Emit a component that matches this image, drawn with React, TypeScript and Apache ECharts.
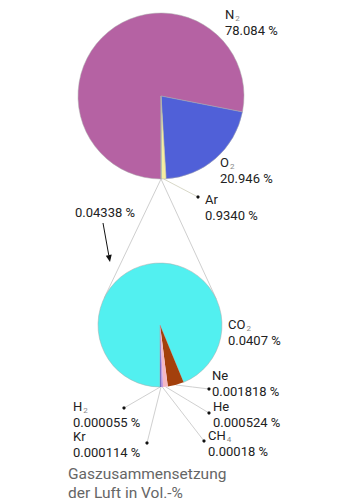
import React, { useEffect, useRef } from "react";
import * as echarts from "echarts";

// ---- data ----
const topNames = ["N2", "O2", "Ar", "Rest"];
const topValues = [78.084, 20.946, 0.934, 0.04338];
const topValueLabels = ["78.084 %", "20.946 %", "0.9340 %", "0.04338 %"];
const topColors = ["#b562a3", "#5060d8", "#f5eea0", "#52f0f0"];

const bottomNames = ["CO2", "Ne", "He", "CH4", "Kr", "H2"];
const bottomValues = [0.0407, 0.001818, 0.000524, 0.00018, 0.000114, 0.000055];
const bottomValueLabels = ["0.0407 %", "0.001818 %", "0.000524 %", "0.00018 %", "0.000114 %", "0.000055 %"];
const bottomColors = ["#52f0f0", "#a3400c", "#f4b8c4", "#c49ae0", "#7a5ac8", "#3040a8"];

const titleLines = ["Gaszusammensetzung", "der Luft in Vol.-%"];

// ---- layout ----
const TOP_C = [161, 96];
const TOP_R = 83;
const BOT_C = [160, 325];
const BOT_R = 62;

// label top-left positions and dot positions (null = no leader line)
const topLabelPos: number[][] = [[225, 6], [220, 154], [205, 191], [75, 204]];
const topDots: (number[] | null)[] = [null, null, [198, 197], null];
const bottomLabelPos: number[][] = [[228, 316], [212, 367], [213, 398], [208, 427], [73, 428], [73, 398]];
const bottomDots: (number[] | null)[] = [null, [209, 389], [209, 413], [204, 441], [147, 443], [124, 408]];

function fmt(name: string, val: string) {
  if (name === "Rest") return `{v|${val}}`;
  const m = name.match(/^(.*?)(\d*)$/);
  const base = m ? m[1] : name;
  const sub = m ? m[2] : "";
  return `{b|${base}}` + (sub ? `{s|${sub}}` : "") + `\n{v|${val}}`;
}

const rich = {
  b: { fontSize: 13, color: "#222", fontFamily: "Roboto", lineHeight: 16 },
  s: { fontSize: 8, color: "#888", fontFamily: "Roboto", lineHeight: 8, padding: [8, 0, 0, 1] },
  v: { fontSize: 13, color: "#222", fontFamily: "Roboto", lineHeight: 16 },
};

function tangentPoints(P: number[], C: number[], r: number) {
  const dx = C[0] - P[0];
  const dy = C[1] - P[1];
  const d = Math.sqrt(dx * dx + dy * dy);
  const a = Math.asin(r / d);
  const L = Math.sqrt(d * d - r * r);
  const base = Math.atan2(dy, dx);
  return [base - a, base + a].map((t) => [P[0] + L * Math.cos(t), P[1] + L * Math.sin(t)]);
}

export default function App() {
  const ref = useRef<HTMLDivElement>(null);
  useEffect(() => {
    if (!ref.current) return;
    const chart = echarts.init(ref.current, null, { renderer: "svg" });

    const makeLayout = (pos: number[][], dots: (number[] | null)[]) => (params: any) => {
      const i = params.dataIndex;
      const p = pos[i];
      const dot = dots[i];
      const res: any = { x: p[0], y: p[1], align: "left", verticalAlign: "top" };
      if (dot && params.labelLinePoints && params.labelLinePoints[0]) {
        const s = params.labelLinePoints[0];
        res.labelLinePoints = [
          [s[0], s[1]],
          [(s[0] + dot[0]) / 2, (s[1] + dot[1]) / 2],
          [dot[0], dot[1]],
        ];
      }
      return res;
    };

    const P = [TOP_C[0], TOP_C[1] + TOP_R];
    const tps = tangentPoints(P, BOT_C, BOT_R);

    const dotGraphics = [...topDots, ...bottomDots]
      .filter((d) => d)
      .map((d: any) => ({
        type: "circle",
        shape: { cx: d[0], cy: d[1], r: 1.6 },
        style: { fill: "#111" },
        z: 100,
      }));

    const arrowFrom = [103, 223];
    const arrowTo = [110, 262];
    const ax = arrowTo[0] - arrowFrom[0];
    const ay = arrowTo[1] - arrowFrom[1];
    const al = Math.sqrt(ax * ax + ay * ay);
    const ux = ax / al, uy = ay / al;
    const hl = 7, hw = 3;
    const hb = [arrowTo[0] - ux * hl, arrowTo[1] - uy * hl];

    chart.setOption({
      animation: false,
      title: {
        text: titleLines.join("\n"),
        left: 68,
        top: 464,
        padding: 0,
        textStyle: { fontSize: 15.5, color: "#666", fontWeight: "normal", fontFamily: "Roboto", lineHeight: 19 },
      },
      graphic: [
        ...tps.map((t) => ({
          type: "line",
          shape: { x1: P[0], y1: P[1], x2: t[0], y2: t[1] },
          style: { stroke: "#cfcfcf", lineWidth: 1 },
          z: 1,
        })),
        {
          type: "line",
          shape: { x1: arrowFrom[0], y1: arrowFrom[1], x2: hb[0], y2: hb[1] },
          style: { stroke: "#111", lineWidth: 1 },
        },
        {
          type: "polygon",
          shape: {
            points: [
              arrowTo,
              [hb[0] - uy * hw, hb[1] + ux * hw],
              [hb[0] + uy * hw, hb[1] - ux * hw],
            ],
          },
          style: { fill: "#111" },
        },
        ...dotGraphics,
      ],
      series: [
        {
          type: "pie",
          silent: true,
          center: TOP_C,
          radius: TOP_R,
          startAngle: -90,
          clockwise: true,
          avoidLabelOverlap: false,
          itemStyle: { borderColor: "#aaa", borderWidth: 0.5 },
          label: {
            show: true,
            position: "outside",
            formatter: (p: any) => fmt(topNames[p.dataIndex], topValueLabels[p.dataIndex]),
            rich,
          },
          labelLine: { show: true, length: 10, length2: 10, lineStyle: { color: "#d8d8c8", width: 1 } },
          labelLayout: makeLayout(topLabelPos, topDots),
          data: topValues.map((v, i) => ({
            name: topNames[i],
            value: v,
            itemStyle: { color: topColors[i] },
            labelLine: { show: !!topDots[i] },
          })),
        },
        {
          type: "pie",
          silent: true,
          center: BOT_C,
          radius: BOT_R,
          startAngle: -90,
          clockwise: true,
          avoidLabelOverlap: false,
          itemStyle: { borderColor: "#aaa", borderWidth: 0.5 },
          label: {
            show: true,
            position: "outside",
            formatter: (p: any) => fmt(bottomNames[p.dataIndex], bottomValueLabels[p.dataIndex]),
            rich,
          },
          labelLine: { show: true, length: 10, length2: 10, lineStyle: { color: "#d0d0d0", width: 1 } },
          labelLayout: makeLayout(bottomLabelPos, bottomDots),
          data: bottomValues.map((v, i) => ({
            name: bottomNames[i],
            value: v,
            itemStyle: { color: bottomColors[i], borderWidth: i === 0 ? 0.5 : 0 },
            labelLine: { show: !!bottomDots[i] },
          })),
        },
      ],
    });
    return () => chart.dispose();
  }, []);
  return <div ref={ref} style={{ position: "absolute", left: 0, top: 0, width: 355, height: 500 }} />;
}
